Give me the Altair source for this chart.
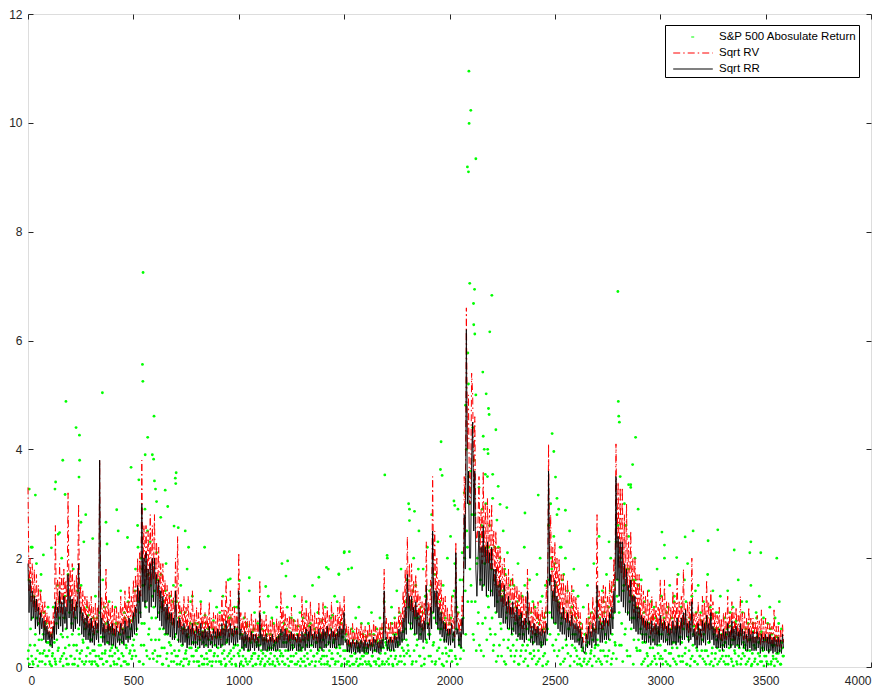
import altair as alt
import pandas as pd

# ---- values (one reading every 5 days for the two lines) ----
sqrt_rr = [
 1.9, 1.0, 1.6, 0.85, 1.4, 0.9, 1.3, 0.7, 1.25, 0.75, 1.1, 0.6, 1.0, 0.7, 0.9, 0.5, 0.85, 0.45, 0.75, 0.5,
 0.65, 0.4, 0.6, 0.35, 0.75, 0.5, 1.2, 0.6, 1.1, 0.7, 1.4, 0.75, 1.2, 0.65, 1.3, 0.8, 1.1, 0.7, 1.7, 0.9,
 1.3, 0.7, 1.25, 0.65, 1.1, 0.7, 1.2, 0.8, 1.9, 0.75, 1.1, 0.6, 1.0, 0.55, 0.9, 0.5, 0.95, 0.5, 0.8, 0.45,
 0.9, 0.45, 0.75, 0.4, 0.85, 0.5, 0.8, 0.45, 3.8, 0.6, 0.9, 0.45, 0.8, 0.4, 0.7, 0.45, 0.85, 0.4, 0.75, 0.4,
 0.8, 0.4, 0.7, 0.35, 0.75, 0.45, 0.65, 0.4, 0.8, 0.45, 0.7, 0.4, 0.85, 0.5, 0.75, 0.45, 0.9, 0.5, 0.8, 0.55,
 1.0, 0.6, 1.1, 0.65, 1.5, 0.8, 1.4, 0.9, 3.0, 1.2, 2.0, 1.1, 2.1, 1.2, 1.8, 1.0, 1.9, 1.1, 2.0, 1.2,
 2.0, 1.1, 1.7, 0.9, 1.6, 0.85, 1.4, 0.75, 1.3, 0.7, 1.1, 0.6, 1.15, 0.6, 1.0, 0.55, 1.0, 0.5, 0.9, 0.5,
 1.4, 0.6, 0.85, 0.45, 0.9, 0.45, 0.75, 0.4, 0.8, 0.45, 0.7, 0.35, 0.75, 0.4, 0.7, 0.4, 0.8, 0.4, 0.65, 0.35,
 0.75, 0.4, 0.7, 0.35, 0.8, 0.4, 0.65, 0.35, 0.7, 0.4, 0.65, 0.35, 0.75, 0.4, 0.6, 0.35, 0.7, 0.4, 0.65, 0.35,
 0.7, 0.4, 0.65, 0.35, 0.8, 0.4, 0.7, 0.4, 0.85, 0.45, 0.7, 0.4, 0.8, 0.45, 0.7, 0.4, 0.75, 0.4, 0.7, 0.45,
 1.4, 0.5, 0.7, 0.35, 0.6, 0.3, 0.65, 0.35, 0.6, 0.3, 0.55, 0.3, 0.65, 0.35, 0.6, 0.3, 0.6, 0.35, 0.55, 0.3,
 1.0, 0.4, 0.6, 0.3, 0.55, 0.3, 0.6, 0.3, 0.5, 0.3, 0.55, 0.3, 0.6, 0.3, 0.5, 0.3, 0.55, 0.3, 0.6, 0.35,
 0.7, 0.35, 0.65, 0.35, 0.7, 0.35, 0.6, 0.3, 0.6, 0.3, 0.65, 0.3, 0.6, 0.35, 0.55, 0.3, 0.6, 0.3, 0.55, 0.3,
 0.65, 0.35, 0.6, 0.3, 0.7, 0.35, 0.65, 0.35, 0.75, 0.4, 0.6, 0.35, 0.65, 0.35, 0.6, 0.3, 0.7, 0.35, 0.6, 0.3,
 0.7, 0.35, 0.65, 0.35, 0.75, 0.4, 0.6, 0.35, 0.7, 0.35, 0.65, 0.35, 0.6, 0.35, 0.7, 0.4, 0.75, 0.4, 0.7, 0.4,
 1.0, 0.45, 0.5, 0.28, 0.5, 0.27, 0.45, 0.25, 0.5, 0.28, 0.45, 0.25, 0.5, 0.27, 0.45, 0.25, 0.5, 0.28, 0.45, 0.25,
 0.5, 0.27, 0.45, 0.25, 0.5, 0.3, 0.45, 0.25, 0.55, 0.3, 0.5, 0.27, 0.45, 0.25, 0.5, 0.28, 0.5, 0.35, 1.4, 0.5,
 0.55, 0.3, 0.5, 0.3, 0.55, 0.3, 0.5, 0.3, 0.6, 0.35, 0.55, 0.35, 0.7, 0.4, 0.65, 0.45, 0.9, 0.5, 1.1, 0.6,
 1.7, 0.8, 1.3, 0.7, 1.3, 0.7, 1.1, 0.6, 1.2, 0.6, 1.0, 0.5, 0.95, 0.5, 0.8, 0.45, 0.85, 0.5, 1.5, 0.7,
 0.8, 0.5, 1.1, 0.7, 2.5, 1.0, 1.4, 0.8, 1.4, 0.7, 1.1, 0.6, 1.0, 0.55, 0.85, 0.45, 0.8, 0.45, 0.7, 0.4,
 0.7, 0.4, 0.8, 0.45, 0.65, 0.35, 2.1, 0.6, 0.7, 0.4, 0.65, 0.35, 0.9, 0.6, 2.8, 1.8, 6.2, 3.0, 3.6, 2.0,
 2.0, 3.8, 4.5, 2.5, 3.6, 1.8, 1.3, 1.9, 2.5, 1.5, 2.2, 1.4, 2.6, 1.5, 2.2, 1.3, 2.3, 1.4, 2.1, 1.3,
 2.2, 1.3, 1.8, 1.1, 1.8, 1.0, 1.5, 0.9, 1.6, 0.9, 1.3, 0.8, 1.5, 0.8, 1.2, 0.7, 1.3, 0.7, 1.1, 0.6,
 1.2, 0.65, 1.0, 0.6, 1.1, 0.55, 0.95, 0.5, 1.0, 0.5, 0.85, 0.45, 0.9, 0.5, 1.4, 0.6, 0.85, 0.45, 0.75, 0.4,
 0.8, 0.45, 0.7, 0.4, 0.75, 0.4, 0.65, 0.35, 0.7, 0.4, 0.65, 0.4, 0.8, 0.6, 3.6, 1.5, 1.7, 0.9, 1.4, 0.8,
 1.6, 0.8, 1.3, 0.7, 1.2, 0.65, 1.0, 0.6, 1.1, 0.6, 0.9, 0.5, 1.0, 0.55, 0.85, 0.5, 0.95, 0.5, 0.8, 0.45,
 0.8, 0.45, 0.75, 0.4, 0.7, 0.35, 0.55, 0.3, 0.25, 0.3, 0.6, 0.35, 0.75, 0.4, 0.65, 0.35, 0.8, 0.45, 0.7, 0.4,
 1.5, 0.6, 0.85, 0.45, 0.8, 0.45, 0.9, 0.5, 0.9, 0.5, 0.85, 0.5, 1.0, 0.6, 1.1, 0.7, 1.4, 1.0, 3.5, 1.6,
 2.4, 1.3, 2.3, 1.2, 2.3, 1.1, 1.9, 1.0, 1.8, 0.95, 1.5, 0.85, 1.6, 0.8, 1.3, 0.7, 1.3, 0.65, 1.1, 0.6,
 1.1, 0.6, 0.95, 0.5, 0.9, 0.45, 0.85, 0.45, 0.85, 0.45, 0.8, 0.4, 0.85, 0.45, 0.75, 0.4, 0.8, 0.4, 0.75, 0.45,
 0.95, 0.5, 0.8, 0.45, 0.85, 0.45, 0.75, 0.4, 0.8, 0.4, 0.7, 0.4, 0.85, 0.45, 0.75, 0.4, 0.9, 0.45, 0.75, 0.4,
 0.9, 0.5, 1.0, 0.5, 1.05, 0.55, 0.8, 0.45, 0.85, 0.5, 1.2, 0.55, 0.7, 0.4, 0.65, 0.35, 0.8, 0.4, 0.7, 0.4,
 0.85, 0.45, 0.8, 0.4, 0.95, 0.5, 0.8, 0.45, 1.0, 0.5, 0.75, 0.4, 0.7, 0.35, 0.6, 0.35, 0.7, 0.35, 0.6, 0.3,
 0.7, 0.35, 0.65, 0.35, 0.8, 0.4, 0.65, 0.35, 0.85, 0.4, 0.7, 0.35, 0.75, 0.4, 0.65, 0.35, 0.8, 0.4, 0.7, 0.35,
 0.65, 0.3, 0.6, 0.3, 0.7, 0.35, 0.6, 0.3, 0.65, 0.3, 0.55, 0.3, 0.65, 0.35, 0.55, 0.25, 0.6, 0.3, 0.55, 0.3,
 0.6, 0.3, 0.55, 0.25, 0.6, 0.3, 0.5, 0.25, 0.55, 0.28, 0.5, 0.25, 0.55, 0.27, 0.5, 0.25, 0.6, 0.35,
]

sqrt_rv = [
 3.3, 1.4, 2.0, 1.2, 1.9, 1.1, 1.8, 1.0, 1.7, 1.0, 1.5, 0.8, 1.4, 0.9, 1.2, 0.7, 1.2, 0.65, 1.0, 0.6,
 0.95, 0.55, 0.85, 0.5, 1.0, 0.65, 2.6, 0.9, 1.6, 1.0, 1.9, 1.0, 1.7, 0.9, 1.8, 1.1, 1.6, 1.0, 3.2, 1.2,
 1.8, 1.0, 1.9, 0.9, 1.6, 1.0, 1.7, 1.1, 3.0, 1.1, 1.5, 0.85, 1.4, 0.8, 1.3, 0.7, 1.3, 0.7, 1.2, 0.65,
 1.3, 0.65, 1.1, 0.6, 1.2, 0.7, 1.1, 0.65, 3.8, 0.9, 1.3, 0.65, 1.2, 0.6, 1.8, 0.65, 1.2, 0.6, 1.1, 0.6,
 1.2, 0.6, 1.1, 0.55, 1.1, 0.65, 1.0, 0.6, 1.3, 0.65, 1.1, 0.6, 1.4, 0.7, 1.2, 0.7, 1.5, 0.8, 1.3, 0.8,
 1.6, 0.9, 1.7, 1.0, 2.0, 1.2, 2.1, 1.3, 3.8, 1.7, 2.6, 1.5, 2.6, 1.6, 2.5, 1.4, 2.8, 1.5, 2.6, 1.6,
 2.8, 1.5, 2.3, 1.3, 2.2, 1.2, 1.9, 1.0, 1.9, 1.0, 1.6, 0.85, 1.5, 0.85, 1.4, 0.8, 1.4, 0.75, 1.3, 0.7,
 2.0, 0.9, 2.4, 0.7, 1.2, 0.65, 1.1, 0.6, 1.3, 0.65, 1.1, 0.55, 1.3, 0.6, 1.0, 0.55, 1.4, 0.6, 1.0, 0.5,
 1.1, 0.55, 1.0, 0.5, 1.2, 0.55, 0.95, 0.5, 1.0, 0.55, 0.95, 0.5, 1.2, 0.55, 0.9, 0.5, 1.0, 0.55, 0.95, 0.5,
 1.0, 0.55, 0.95, 0.5, 1.3, 0.6, 1.05, 0.55, 1.6, 0.65, 1.1, 0.55, 1.4, 0.6, 1.1, 0.55, 1.1, 0.6, 1.0, 0.6,
 2.1, 0.7, 1.0, 0.5, 0.9, 0.45, 1.0, 0.5, 0.9, 0.45, 0.85, 0.45, 1.0, 0.5, 0.85, 0.45, 0.9, 0.5, 0.85, 0.45,
 1.6, 0.55, 0.9, 0.45, 0.85, 0.45, 0.95, 0.45, 0.8, 0.45, 0.85, 0.45, 0.9, 0.45, 0.8, 0.45, 0.9, 0.45, 0.85, 0.5,
 1.4, 0.55, 1.1, 0.5, 1.0, 0.5, 0.9, 0.45, 0.95, 0.45, 1.1, 0.5, 0.9, 0.5, 0.85, 0.45, 0.9, 0.45, 0.8, 0.45,
 1.3, 0.5, 1.0, 0.45, 1.1, 0.5, 1.0, 0.5, 1.2, 0.55, 0.95, 0.5, 1.0, 0.5, 0.9, 0.45, 1.2, 0.5, 0.9, 0.45,
 1.2, 0.55, 1.0, 0.5, 1.1, 0.55, 0.95, 0.5, 1.2, 0.55, 1.0, 0.5, 0.95, 0.5, 1.1, 0.55, 1.2, 0.6, 1.1, 0.6,
 1.3, 0.6, 0.8, 0.4, 0.75, 0.4, 0.7, 0.35, 0.8, 0.4, 0.7, 0.35, 0.75, 0.4, 0.7, 0.35, 0.8, 0.4, 0.7, 0.35,
 0.75, 0.4, 0.7, 0.35, 0.8, 0.4, 0.7, 0.35, 0.85, 0.45, 0.75, 0.4, 0.7, 0.35, 0.75, 0.4, 0.8, 0.5, 1.8, 0.6,
 0.9, 0.45, 0.8, 0.45, 0.85, 0.45, 0.8, 0.45, 0.9, 0.5, 0.85, 0.5, 1.1, 0.6, 1.0, 0.65, 1.4, 0.8, 1.8, 0.9,
 2.4, 1.1, 1.9, 1.0, 1.9, 1.0, 1.6, 0.9, 1.7, 0.85, 1.4, 0.75, 1.3, 0.7, 1.2, 0.65, 1.2, 0.7, 2.3, 0.9,
 1.2, 0.7, 1.6, 1.0, 3.5, 1.4, 2.5, 1.1, 2.0, 1.0, 1.6, 0.85, 1.6, 0.8, 1.3, 0.7, 1.3, 0.65, 1.1, 0.6,
 1.0, 0.6, 1.3, 0.7, 0.9, 0.55, 2.3, 0.8, 1.0, 0.6, 0.9, 0.55, 1.3, 0.9, 3.5, 2.4, 6.6, 4.0, 5.0, 3.0,
 3.0, 5.4, 5.0, 3.3, 4.6, 2.5, 2.3, 2.6, 3.5, 2.1, 2.9, 1.9, 3.6, 2.0, 3.0, 1.9, 3.1, 1.9, 2.9, 1.8,
 3.0, 1.8, 2.5, 1.5, 2.5, 1.4, 2.2, 1.3, 2.2, 1.2, 1.9, 1.1, 2.0, 1.1, 1.7, 1.0, 1.8, 0.95, 1.6, 0.9,
 1.7, 0.9, 1.5, 0.85, 1.5, 0.8, 1.4, 0.75, 1.4, 0.7, 1.3, 0.7, 1.3, 0.7, 1.8, 0.8, 1.2, 0.65, 1.1, 0.6,
 1.2, 0.6, 1.1, 0.55, 1.2, 0.6, 1.0, 0.55, 1.1, 0.6, 1.0, 0.6, 1.6, 0.9, 4.1, 2.0, 2.8, 1.4, 2.2, 1.2,
 2.3, 1.2, 2.0, 1.0, 2.0, 0.95, 1.7, 0.9, 1.7, 0.85, 1.5, 0.8, 1.6, 0.8, 1.4, 0.75, 1.5, 0.75, 1.3, 0.7,
 1.3, 0.65, 1.1, 0.6, 1.0, 0.5, 0.8, 0.45, 0.5, 0.45, 0.9, 0.5, 1.2, 0.6, 1.0, 0.55, 1.3, 0.65, 1.1, 0.6,
 2.8, 0.9, 1.4, 0.7, 1.3, 0.7, 1.5, 0.75, 1.5, 0.8, 1.3, 0.75, 1.6, 0.9, 1.6, 1.0, 2.0, 1.4, 4.1, 2.2,
 3.4, 1.8, 3.3, 1.7, 3.3, 1.6, 2.8, 1.5, 3.0, 1.4, 2.3, 1.3, 2.5, 1.2, 2.0, 1.0, 2.0, 1.0, 1.7, 0.9,
 1.7, 0.85, 1.5, 0.75, 1.4, 0.7, 1.3, 0.65, 1.4, 0.7, 1.2, 0.6, 1.3, 0.65, 1.1, 0.6, 1.2, 0.6, 1.1, 0.65,
 1.6, 0.7, 1.3, 0.65, 1.6, 0.7, 1.2, 0.6, 1.2, 0.6, 1.1, 0.6, 1.4, 0.7, 1.2, 0.6, 1.7, 0.7, 1.2, 0.6,
 1.3, 0.7, 1.8, 0.75, 1.1, 0.65, 1.2, 0.6, 1.2, 0.65, 2.0, 0.75, 1.0, 0.55, 1.0, 0.5, 1.2, 0.6, 1.0, 0.55,
 1.3, 0.65, 1.2, 0.6, 1.6, 0.7, 1.2, 0.65, 1.4, 0.7, 1.2, 0.6, 1.0, 0.55, 0.95, 0.5, 1.1, 0.5, 0.9, 0.45,
 1.0, 0.5, 1.0, 0.5, 1.3, 0.55, 1.0, 0.5, 1.2, 0.55, 1.0, 0.5, 1.1, 0.55, 0.95, 0.5, 1.3, 0.55, 1.0, 0.5,
 1.0, 0.5, 0.9, 0.45, 1.1, 0.5, 0.9, 0.45, 0.9, 0.45, 0.85, 0.45, 0.95, 0.5, 0.85, 0.4, 1.05, 0.45, 0.85, 0.45,
 0.9, 0.45, 0.8, 0.4, 0.8, 0.4, 0.75, 0.35, 1.05, 0.4, 0.75, 0.35, 0.75, 0.35, 0.7, 0.35, 0.8, 0.45,
]

# absolute returns on days 0, 5, 10, ...
abs_ret_a = [
 0.15, 1.6, 0.4, 2.2, 0.9, 0.05, 1.2, 0.6, 1.9, 0.3, 0.8, 0.1, 1.4, 0.5, 0.25, 1.0, 0.7, 0.2, 0.45, 1.1,
 0.3, 0.05, 0.6, 0.2, 1.1, 0.45, 0.1, 0.8, 1.5, 0.35, 0.9, 0.15, 2.0, 0.55, 0.25, 1.3, 0.7, 0.05, 1.7, 0.4,
 1.2, 0.2, 0.6, 1.8, 0.05, 0.9, 0.4, 1.4, 0.7, 0.15, 1.0, 0.3, 0.5, 2.3, 0.8, 0.1, 1.1, 0.35, 0.6, 0.25,
 0.5, 0.1, 0.9, 0.3, 1.3, 0.05, 0.65, 0.2, 1.0, 0.4, 0.15, 1.6, 0.55, 0.25, 0.8, 0.1, 0.45, 1.2, 0.3, 0.7,
 0.2, 0.6, 0.05, 1.1, 0.35, 0.8, 0.15, 0.5, 1.4, 0.25, 0.7, 0.1, 0.9, 0.4, 0.05, 1.2, 0.55, 0.3, 0.85, 0.2,
 0.9, 0.3, 1.8, 0.6, 2.6, 1.2, 0.1, 2.0, 0.8, 1.5, 0.4, 2.9, 1.1, 0.2, 1.7, 0.7, 2.3, 0.5, 1.3, 0.15,
 1.4, 0.5, 2.1, 0.2, 1.0, 0.7, 1.7, 0.35, 0.05, 1.2, 0.6, 1.9, 0.25, 0.9, 0.45, 1.3, 0.1, 0.8, 1.5, 0.3,
 0.6, 1.2, 0.2, 0.9, 0.05, 1.5, 0.4, 0.7, 0.15, 1.0, 0.3, 1.8, 0.55, 0.1, 0.8, 0.35, 1.3, 0.2, 0.65, 0.45,
 0.3, 0.8, 0.1, 0.5, 1.2, 0.2, 0.65, 0.05, 0.95, 0.4, 0.15, 0.7, 0.3, 1.4, 0.45, 0.1, 0.85, 0.25, 0.55, 1.1,
 0.2, 0.6, 1.0, 0.1, 0.4, 1.3, 0.3, 0.75, 0.05, 0.5, 1.6, 0.25, 0.9, 0.15, 0.6, 0.35, 1.1, 0.05, 0.7, 0.4,
 1.2, 0.3, 0.05, 0.6, 0.2, 0.9, 0.4, 0.1, 0.75, 0.3, 1.4, 0.5, 0.15, 0.65, 0.25, 1.0, 0.05, 0.45, 0.8, 0.2,
 0.4, 0.1, 0.7, 0.25, 1.0, 0.05, 0.5, 0.3, 1.3, 0.15, 0.6, 0.35, 0.05, 0.8, 0.2, 0.45, 1.1, 0.1, 0.55, 0.3,
 0.6, 1.9, 0.2, 0.8, 0.05, 0.45, 1.1, 0.3, 0.65, 0.1, 0.9, 0.4, 0.2, 1.3, 0.5, 0.05, 0.75, 0.3, 1.0, 0.15,
 0.35, 0.9, 0.1, 0.6, 1.2, 0.25, 0.5, 0.05, 0.8, 0.4, 1.5, 0.2, 0.7, 0.1, 0.45, 1.0, 0.3, 0.6, 0.15, 0.85,
 0.5, 0.2, 1.1, 0.4, 0.05, 1.8, 0.3, 0.7, 0.15, 0.95, 0.45, 1.3, 0.1, 0.6, 0.25, 1.7, 0.35, 0.8, 0.05, 0.55,
 2.1, 0.3, 0.6, 0.1, 1.8, 0.4, 0.2, 0.7, 0.05, 0.5, 0.25, 0.9, 0.15, 0.35, 1.1, 0.05, 0.45, 0.2, 0.6, 0.3,
 0.1, 0.55, 0.25, 0.8, 0.05, 0.4, 1.0, 0.2, 0.6, 0.3, 0.1, 0.7, 0.45, 0.15, 0.9, 0.35, 0.05, 0.5, 1.2, 0.25,
 0.4, 2.0, 0.15, 0.7, 0.3, 1.1, 0.05, 0.6, 0.9, 0.2, 1.4, 0.45, 0.1, 0.8, 1.8, 0.35, 0.65, 0.2, 1.2, 0.5,
 1.6, 0.3, 2.9, 0.8, 1.2, 0.1, 2.0, 0.6, 1.5, 0.4, 0.9, 2.5, 0.2, 1.1, 0.7, 1.8, 0.05, 1.3, 0.5, 2.2,
 0.6, 1.4, 0.2, 2.8, 1.0, 0.45, 1.7, 0.1, 0.8, 2.3, 0.35, 1.2, 0.7, 0.05, 1.5, 0.5, 0.9, 0.25, 2.0, 0.6,
 0.8, 2.4, 0.3, 1.3, 0.6, 1.9, 0.15, 1.1, 2.9, 0.5, 1.6, 0.35, 2.1, 0.9, 3.2, 1.4, 4.0, 2.2, 5.2, 3.0,
 3.6, 1.2, 4.4, 0.5, 2.8, 5.0, 1.9, 0.8, 3.3, 2.4, 0.3, 2.9, 1.5, 4.0, 0.9, 2.2, 3.5, 1.1, 2.6, 0.6,
 1.8, 3.1, 0.4, 2.2, 1.0, 2.7, 0.2, 1.5, 2.0, 0.7, 1.3, 2.5, 0.1, 1.7, 0.9, 2.1, 0.5, 1.2, 0.3, 1.6,
 0.7, 1.5, 0.2, 1.1, 0.5, 1.9, 0.05, 0.9, 0.3, 1.3, 0.6, 2.2, 0.15, 1.0, 0.4, 0.8, 1.6, 0.25, 0.55, 1.2,
 0.3, 1.1, 0.6, 1.7, 0.1, 0.8, 2.0, 0.45, 1.3, 0.2, 0.9, 1.5, 0.05, 0.7, 2.6, 1.0, 3.0, 1.8, 0.4, 2.4,
 1.9, 0.5, 2.8, 1.2, 0.3, 2.2, 0.8, 1.6, 0.1, 1.0, 2.0, 0.4, 1.4, 0.7, 2.5, 0.2, 1.1, 0.6, 1.8, 0.35,
 0.9, 0.2, 1.3, 0.5, 0.05, 0.7, 0.3, 1.1, 0.15, 0.6, 0.4, 1.5, 0.1, 0.8, 0.25, 1.0, 0.5, 1.9, 0.35, 0.7,
 1.2, 0.4, 2.4, 0.1, 0.8, 1.4, 0.3, 1.0, 0.6, 1.7, 0.2, 1.1, 0.5, 2.0, 0.15, 0.9, 1.5, 0.45, 2.3, 1.3,
 2.6, 1.0, 3.5, 0.4, 2.1, 1.4, 3.0, 0.7, 1.8, 0.2, 2.4, 1.2, 3.3, 0.9, 1.6, 0.5, 2.0, 1.1, 0.3, 1.5,
 1.0, 0.3, 1.6, 0.6, 0.1, 1.2, 0.45, 0.8, 0.2, 1.4, 0.55, 0.05, 0.9, 0.35, 1.1, 0.15, 0.7, 1.8, 0.25, 0.6,
 0.4, 1.3, 0.15, 0.8, 2.0, 0.3, 1.0, 0.05, 0.6, 1.5, 0.25, 0.9, 0.45, 1.2, 0.1, 0.7, 0.35, 1.7, 0.2, 0.55,
 1.1, 0.2, 0.7, 1.6, 0.35, 0.05, 1.9, 0.5, 0.9, 0.15, 1.3, 0.4, 0.75, 0.1, 1.0, 0.3, 1.5, 0.6, 0.2, 0.85,
 0.5, 1.2, 0.1, 0.8, 0.3, 1.7, 0.45, 0.05, 0.9, 0.25, 1.4, 0.6, 0.15, 1.0, 0.35, 0.7, 0.1, 1.3, 0.5, 0.2,
 0.3, 0.9, 0.05, 0.6, 1.4, 0.2, 0.75, 0.4, 0.1, 1.1, 0.5, 0.25, 0.85, 0.05, 1.6, 0.35, 0.6, 0.15, 1.0, 0.45,
 0.2, 0.7, 1.2, 0.1, 0.5, 0.3, 1.5, 0.05, 0.8, 0.4, 0.15, 1.0, 0.55, 0.25, 1.3, 0.1, 0.65, 0.35, 0.9, 0.2,
 0.5, 0.1, 0.8, 0.3, 1.1, 0.05, 0.6, 0.2, 0.4, 0.9, 0.15, 0.55, 0.25, 1.2, 0.05, 0.7, 0.35, 0.2,
]

# absolute returns on days 2, 7, 12, ...
abs_ret_b = [
 0.3, 0.05, 0.7, 0.2, 0.1, 1.3, 0.4, 0.15, 0.9, 0.02, 0.5, 0.25, 1.7, 0.1, 0.6, 0.3, 0.05, 0.8, 0.2, 0.45,
 0.1, 0.4, 0.02, 0.25, 0.7, 0.15, 0.05, 0.5, 0.3, 1.2, 0.1, 0.6, 0.2, 0.02, 0.9, 0.35, 0.15, 0.55, 0.05, 1.0,
 0.2, 0.8, 0.05, 0.4, 0.15, 1.1, 0.3, 0.02, 0.6, 0.25, 1.5, 0.1, 0.45, 0.05, 0.7, 0.2, 0.35, 0.95, 0.1, 0.5,
 0.05, 0.3, 0.6, 0.1, 0.2, 0.9, 0.02, 0.4, 0.15, 0.55, 0.25, 0.05, 1.1, 0.3, 0.1, 0.45, 0.7, 0.2, 0.02, 0.35,
 0.4, 0.1, 0.25, 0.8, 0.05, 0.3, 0.15, 0.6, 0.02, 0.45, 0.2, 1.0, 0.1, 0.35, 0.55, 0.05, 0.25, 0.7, 0.15, 0.4,
 0.5, 1.4, 0.2, 0.7, 2.2, 0.1, 1.0, 0.4, 1.8, 0.05, 0.8, 1.2, 0.3, 2.5, 0.6, 0.15, 1.5, 0.9, 0.25, 1.1,
 0.3, 0.9, 0.1, 1.6, 0.5, 0.2, 1.1, 0.05, 0.7, 0.35, 1.4, 0.15, 0.6, 0.02, 0.95, 0.4, 0.25, 1.2, 0.1, 0.55,
 0.2, 0.05, 0.5, 0.3, 1.0, 0.1, 0.4, 0.02, 0.7, 0.25, 0.15, 0.6, 0.05, 0.35, 1.2, 0.2, 0.45, 0.1, 0.8, 0.3,
 0.1, 0.35, 0.02, 0.6, 0.2, 0.05, 0.45, 0.15, 0.8, 0.25, 0.05, 0.5, 0.1, 0.3, 0.02, 0.7, 0.2, 0.4, 0.1, 0.55,
 0.35, 0.1, 0.55, 0.05, 0.25, 0.7, 0.15, 0.02, 0.45, 0.2, 0.9, 0.1, 0.3, 0.05, 0.6, 0.2, 0.4, 0.02, 1.1, 0.25,
 0.2, 0.6, 0.1, 0.35, 0.02, 0.5, 0.15, 0.8, 0.05, 0.3, 0.1, 0.45, 0.2, 0.02, 0.7, 0.25, 0.05, 0.4, 0.15, 0.55,
 0.05, 0.3, 0.15, 0.5, 0.02, 0.2, 0.6, 0.1, 0.35, 0.05, 0.25, 0.9, 0.1, 0.4, 0.02, 0.3, 0.15, 0.55, 0.05, 0.2,
 0.25, 0.1, 0.45, 0.05, 0.3, 0.7, 0.15, 0.02, 0.5, 0.2, 0.1, 0.35, 0.85, 0.05, 0.25, 0.6, 0.1, 0.4, 0.02, 0.3,
 0.1, 0.5, 0.2, 0.02, 0.4, 0.15, 0.75, 0.05, 0.3, 0.1, 0.55, 0.2, 0.02, 0.45, 0.25, 1.0, 0.1, 0.35, 0.05, 0.2,
 0.3, 0.05, 0.6, 0.2, 0.1, 0.45, 0.02, 0.9, 0.25, 0.15, 0.5, 0.05, 0.35, 1.2, 0.1, 0.4, 0.2, 0.02, 0.65, 0.3,
 0.15, 0.5, 0.05, 0.3, 0.1, 0.02, 0.4, 0.2, 0.65, 0.05, 0.25, 0.1, 0.45, 0.02, 0.3, 0.15, 0.8, 0.05, 0.2, 0.35,
 0.25, 0.05, 0.35, 0.1, 0.6, 0.02, 0.2, 0.4, 0.1, 0.3, 0.05, 0.5, 0.15, 0.02, 0.25, 0.7, 0.1, 0.35, 0.05, 0.45,
 0.1, 0.35, 0.05, 0.5, 0.2, 0.8, 0.02, 0.3, 0.15, 0.6, 0.05, 0.4, 1.0, 0.2, 0.1, 0.5, 0.3, 0.05, 0.7, 0.25,
 0.4, 1.1, 0.2, 0.7, 0.05, 1.4, 0.3, 0.9, 0.1, 0.5, 1.8, 0.2, 0.6, 0.02, 1.0, 0.35, 0.15, 1.3, 0.45, 0.8,
 0.2, 0.6, 1.5, 0.1, 0.4, 0.9, 0.05, 1.2, 0.3, 0.7, 0.15, 0.5, 1.0, 0.25, 0.02, 0.8, 0.35, 0.1, 0.6, 0.2,
 0.3, 0.9, 0.1, 0.5, 1.4, 0.2, 0.7, 0.05, 1.0, 0.4, 0.15, 0.8, 1.6, 0.3, 2.0, 0.6, 2.5, 1.2, 3.5, 1.8,
 1.5, 2.8, 0.6, 3.8, 1.2, 0.3, 2.0, 1.0, 0.4, 1.6, 2.6, 0.8, 0.2, 1.9, 3.0, 0.5, 1.3, 2.2, 0.7, 1.4,
 0.9, 0.3, 1.6, 0.6, 0.1, 1.2, 2.2, 0.4, 0.8, 0.2, 1.4, 0.5, 1.8, 0.05, 1.0, 0.35, 0.7, 1.5, 0.2, 0.6,
 0.4, 0.1, 0.8, 0.3, 1.2, 0.05, 0.6, 0.2, 0.95, 0.4, 0.1, 1.5, 0.3, 0.7, 0.02, 0.5, 0.25, 1.0, 0.15, 0.45,
 0.2, 0.6, 0.05, 0.9, 0.3, 0.15, 1.2, 0.4, 0.02, 0.7, 0.25, 1.0, 0.5, 0.1, 1.6, 0.6, 2.0, 0.9, 1.3, 0.3,
 0.8, 1.5, 0.2, 0.6, 1.1, 0.05, 0.9, 0.35, 1.7, 0.15, 0.5, 1.2, 0.25, 0.7, 0.02, 1.0, 0.4, 1.4, 0.1, 0.6,
 0.3, 0.05, 0.5, 0.15, 0.8, 0.02, 0.35, 0.1, 0.6, 0.25, 0.05, 0.45, 0.9, 0.15, 0.3, 0.02, 0.7, 0.2, 0.4, 0.1,
 0.5, 0.15, 0.9, 0.3, 0.05, 0.7, 1.2, 0.2, 0.45, 0.1, 0.8, 0.3, 1.4, 0.05, 0.6, 0.25, 1.0, 0.4, 0.15, 1.6,
 1.2, 0.4, 2.0, 0.8, 0.1, 1.5, 0.6, 2.6, 0.3, 1.0, 1.8, 0.2, 0.7, 1.3, 0.05, 0.9, 1.6, 0.35, 1.1, 0.5,
 0.3, 0.7, 0.05, 0.45, 1.0, 0.15, 0.6, 0.25, 0.02, 0.8, 0.35, 1.2, 0.1, 0.5, 0.2, 0.9, 0.05, 0.4, 0.65, 0.15,
 0.2, 0.6, 0.05, 0.9, 0.3, 0.1, 0.5, 1.1, 0.25, 0.02, 0.7, 0.35, 0.15, 1.3, 0.45, 0.05, 0.8, 0.2, 0.55, 0.1,
 0.45, 0.1, 0.8, 0.25, 1.2, 0.05, 0.55, 0.3, 0.02, 0.9, 0.2, 0.6, 0.1, 1.4, 0.35, 0.05, 0.7, 0.2, 1.0, 0.3,
 0.15, 0.6, 0.3, 0.05, 0.9, 0.2, 0.45, 1.1, 0.1, 0.35, 0.02, 0.7, 0.25, 0.5, 0.05, 1.0, 0.3, 0.15, 0.6, 0.4,
 0.1, 0.45, 0.2, 0.7, 0.05, 0.35, 1.0, 0.15, 0.5, 0.02, 0.3, 0.8, 0.1, 0.4, 0.2, 0.6, 0.05, 1.2, 0.25, 0.35,
 0.4, 0.05, 0.3, 0.8, 0.15, 0.5, 0.02, 0.25, 0.65, 0.1, 0.35, 0.9, 0.05, 0.45, 0.2, 0.6, 0.1, 0.3, 0.02, 0.5,
 0.2, 0.5, 0.05, 0.3, 0.7, 0.1, 0.4, 0.15, 0.02, 0.55, 0.25, 0.1, 0.8, 0.3, 0.05, 0.45, 0.2,
]

# large absolute returns read individually (day index, value)
big_idx = [6, 35, 20, 73, 111, 128, 131, 143, 150, 165, 176, 180, 228, 242, 244, 245, 251, 274, 307, 353,
           370, 375, 421, 428, 472, 489, 526, 543, 545, 546, 556, 568, 590, 596, 598, 600, 605, 610, 630, 651,
           663, 693, 699, 701, 703, 713, 746, 762, 838, 960, 1003, 1050, 1128, 1224, 1232, 1380, 1416, 1475,
           1501, 1525, 1536, 1693, 1704, 1806, 1810, 1834, 1957, 1960, 1965, 2021, 2025, 2076, 2085, 2087,
           2090, 2092, 2093, 2096, 2101, 2114, 2115, 2119, 2120, 2125, 2158, 2160, 2174, 2185, 2188, 2191,
           2201, 2220, 2181, 2183, 2170, 2205, 2231, 2240, 2272, 2358, 2421, 2487, 2495, 2503, 2510, 2518,
           2550, 2530, 2799, 2801, 2803, 2806, 2869, 2883, 2850, 2860, 2895, 2757, 3008, 3020, 3078, 3118,
           3156, 3227, 3273, 3351, 3430, 3425, 3477, 3553]
big_val = [3.27, 3.16, 2.2, 2.06, 2.19, 3.27, 3.40, 2.44, 2.47, 3.80, 3.17, 4.88, 4.40, 3.49, 4.26, 3.80, 2.66, 2.80, 2.36, 5.04,
           2.66, 2.26, 2.89, 2.50, 2.38, 3.67, 3.44, 5.56, 5.25, 7.25, 3.90, 4.22, 3.90, 3.82, 4.61, 3.42, 3.27, 3.04, 2.75, 3.25,
           2.95, 2.59, 3.47, 3.37, 3.57, 2.56, 2.50, 2.20, 2.20, 1.62, 1.59, 1.64, 1.48, 1.67, 1.95, 1.65, 1.83, 1.71,
           2.12, 2.12, 1.82, 3.53, 2.05, 3.00, 2.69, 2.86, 3.63, 4.14, 3.52, 3.05, 2.97, 4.81, 9.19, 5.77,
           9.10, 10.95, 9.99, 7.05, 10.23, 6.68, 6.29, 6.94, 6.12, 9.34, 5.42, 4.24, 5.02, 4.75, 4.64, 6.16,
           6.83, 4.36, 4.0, 3.92, 3.54, 3.54, 3.32, 2.99, 2.93, 2.83, 3.16, 4.29, 3.96, 3.49, 3.1, 2.9,
           2.88, 2.2, 6.9, 4.88, 4.61, 4.5, 3.72, 4.22, 3.35, 3.35, 2.9, 2.3, 2.48, 2.24, 2.01, 2.39,
           2.5, 2.32, 2.52, 2.15, 2.30, 2.1, 2.10, 2.0]

series_names = ["S&P 500 Abosulate Return", "Sqrt RV", "Sqrt RR"]
x_ticks = [0, 500, 1000, 1500, 2000, 2500, 3000, 3500, 4000]
y_ticks = [0, 2, 4, 6, 8, 10, 12]

line_t = list(range(0, 5 * len(sqrt_rr), 5))
pa_t = list(range(0, 5 * len(abs_ret_a), 5))
pb_t = list(range(2, 2 + 5 * len(abs_ret_b), 5))

df_lines = pd.DataFrame({
    "t": line_t + line_t,
    "v": sqrt_rv + sqrt_rr,
    "series": ["Sqrt RV"] * len(sqrt_rv) + ["Sqrt RR"] * len(sqrt_rr),
})
df_pts = pd.DataFrame({"t": pa_t + pb_t + big_idx, "v": abs_ret_a + abs_ret_b + big_val})

FONT = "Liberation Sans"
AX = "#262626"

xscale = alt.Scale(domain=[0, 4000], nice=False, zero=False)
yscale = alt.Scale(domain=[0, 12], nice=False)

x_bottom = alt.Axis(orient="bottom", values=x_ticks, format="d", offset=-5, tickSize=5, domain=False, grid=False,
                    labelPadding=8, labelFont=FONT, labelFontSize=12, labelColor=AX, tickColor=AX, title=None)
y_left = alt.Axis(orient="left", values=y_ticks, format="d", offset=-5, tickSize=5, domain=False, grid=False,
                  labelPadding=6, labelFont=FONT, labelFontSize=12, labelColor=AX, tickColor=AX, title=None)
x_top = alt.Axis(orient="top", values=x_ticks, offset=-5, tickSize=5, domain=False, grid=False,
                 labels=False, tickColor=AX, title=None)
y_right = alt.Axis(orient="right", values=y_ticks, offset=-5, tickSize=5, domain=False, grid=False,
                   labels=False, tickColor=AX, title=None)

color_scale = alt.Scale(domain=series_names, range=["#00ff00", "#ff0000", "#000000"])
dash_scale = alt.Scale(domain=series_names, range=[[0, 18, 3, 100], [7, 3, 1.5, 3], [1, 0]])

legend = alt.Legend(title=None, orient="none", legendX=637, legendY=11, direction="vertical",
                    symbolType="M-2.2,0H2.2", symbolSize=324, symbolStrokeWidth=1.2,
                    labelFont=FONT, labelFontSize=11.5,
                    labelColor="#000000", strokeColor="#000000", fillColor="#ffffff",
                    padding=2, rowPadding=-5, symbolOffset=16, labelOffset=16, cornerRadius=0)

points = alt.Chart(df_pts).mark_circle(size=8, opacity=1, color="#00ff00").encode(
    x=alt.X("t:Q", scale=xscale, axis=x_bottom),
    y=alt.Y("v:Q", scale=yscale, axis=y_left),
)

rv_line = alt.Chart(df_lines).transform_filter(alt.datum.series == "Sqrt RV").mark_line(strokeWidth=1).encode(
    x=alt.X("t:Q", scale=xscale, axis=x_top),
    y=alt.Y("v:Q", scale=yscale, axis=y_right),
    color=alt.Color("series:N", scale=color_scale, legend=legend),
    strokeDash=alt.StrokeDash("series:N", scale=dash_scale, legend=legend),
)

rr_line = alt.Chart(df_lines).transform_filter(alt.datum.series == "Sqrt RR").mark_line(strokeWidth=1).encode(
    x=alt.X("t:Q", scale=xscale, axis=None),
    y=alt.Y("v:Q", scale=yscale, axis=None),
    color=alt.Color("series:N", scale=color_scale, legend=legend),
    strokeDash=alt.StrokeDash("series:N", scale=dash_scale, legend=legend),
)

chart = alt.layer(points, rv_line, rr_line).resolve_axis(
    x="independent", y="independent"
).properties(
    width=843, height=653,
    autosize=alt.AutoSizeParams(type="none"),
    padding={"left": 20, "top": 6, "right": 10, "bottom": 22},
).configure_view(
    stroke=AX, strokeWidth=1
).configure(background="white")

chart.save("out.html", embed_options={"renderer": "svg", "actions": False})
